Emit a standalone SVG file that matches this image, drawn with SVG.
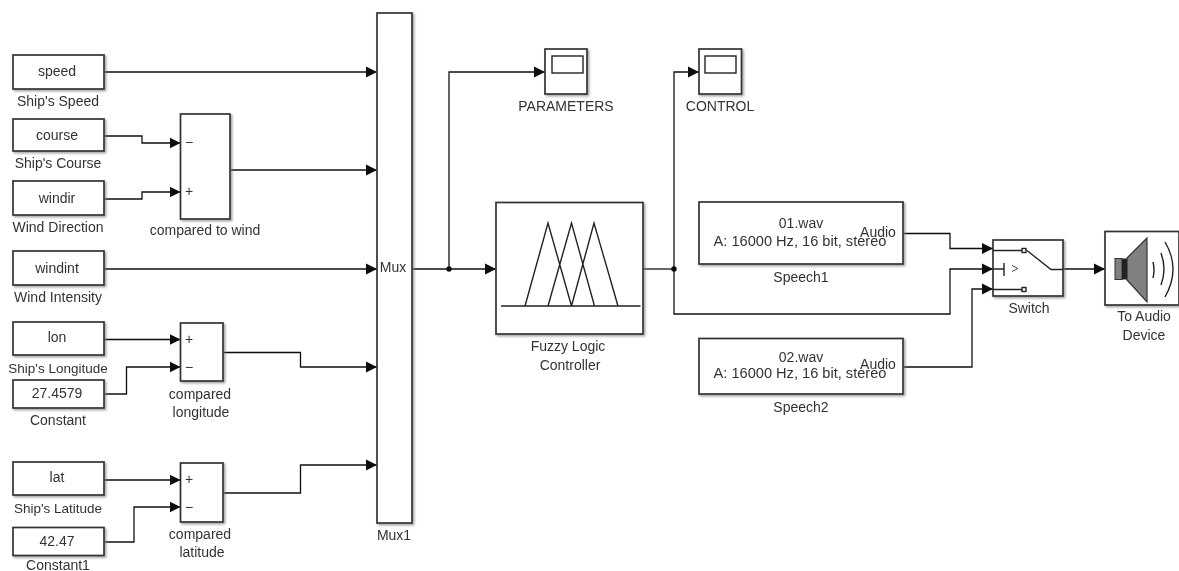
<svg xmlns="http://www.w3.org/2000/svg" width="1179" height="571" viewBox="0 0 1179 571">
<defs>
<marker id="arrow" markerUnits="userSpaceOnUse" markerWidth="12" markerHeight="12" refX="11" refY="6" orient="auto"><path d="M0,0.500 L11,6 L0,11.500 Z" fill="#111"/></marker>
<filter id="soft" x="-10%" y="-10%" width="125%" height="125%"><feDropShadow dx="1.5" dy="1.5" stdDeviation="1.2" flood-color="#777" flood-opacity="0.7"/></filter>
<filter id="blur" filterUnits="userSpaceOnUse" x="0" y="0" width="1179" height="571"><feGaussianBlur stdDeviation="0.35"/></filter>
</defs>
<style>
text{font-family:"Liberation Sans",Arial,sans-serif;font-size:14px;fill:#333;text-anchor:middle}
.w{font-size:14.6px}
.n{font-size:13.5px}
.b{fill:#fff;stroke:#333;stroke-width:1.7;filter:url(#soft)}
.c{fill:none;stroke:#111;stroke-width:1.3}
.a{marker-end:url(#arrow)}
.s{fill:none;stroke:#222;stroke-width:1.4}
</style>
<rect width="1179" height="571" fill="#fff"/>
<g filter="url(#blur)">
<g id="connectors">
<path class="c a" d="M104,72H377"/>
<path class="c a" d="M104,136H142V143H180.500"/>
<path class="c a" d="M104,199H142V192H180.500"/>
<path class="c a" d="M230,170H377"/>
<path class="c a" d="M104,269H377"/>
<path class="c a" d="M104,339.500H180.500"/>
<path class="c a" d="M104,394H126.500V367H180.500"/>
<path class="c a" d="M223,352.500H300.500V367H377"/>
<path class="c a" d="M104,480H180.500"/>
<path class="c a" d="M104,542H134V507H180.500"/>
<path class="c a" d="M223,493H300.500V465H377"/>
<path class="c a" d="M412,269H496"/>
<path class="c a" d="M449,269V72H545"/>
<path class="c" d="M643,269H674"/>
<path class="c a" d="M674,269V72H699"/>
<path class="c a" d="M674,269V314H950V269H993"/>
<path class="c a" d="M903,233.500H950V248.500H993"/>
<path class="c a" d="M903,367H972V289H993"/>
<path class="c a" d="M1063,269H1105"/>
<circle cx="449" cy="269" r="2.700" fill="#111"/>
<circle cx="674" cy="269" r="2.700" fill="#111"/>
</g>
<g id="speed"><rect class="b" x="13" y="55" width="91" height="34"/><text x="57" y="76">speed</text><text x="58" y="106">Ship's Speed</text></g>
<g id="course"><rect class="b" x="13" y="119" width="91" height="32"/><text x="57" y="140">course</text><text x="58" y="168">Ship's Course</text></g>
<g id="windir"><rect class="b" x="13" y="181" width="91" height="34"/><text x="57" y="203">windir</text><text x="58" y="232">Wind Direction</text></g>
<g id="windint"><rect class="b" x="13" y="251" width="91" height="34"/><text x="57" y="273">windint</text><text x="58" y="302">Wind Intensity</text></g>
<g id="lon"><rect class="b" x="13" y="322" width="91" height="33"/><text x="57" y="342">lon</text><text class="n" x="58" y="373">Ship's Longitude</text></g>
<g id="constant"><rect class="b" x="13" y="380" width="91" height="28"/><text x="57" y="398">27.4579</text><text x="58" y="425">Constant</text></g>
<g id="lat"><rect class="b" x="13" y="462" width="91" height="33"/><text x="57" y="482">lat</text><text class="n" x="58" y="513">Ship's Latitude</text></g>
<g id="constant1"><rect class="b" x="13" y="527.500" width="91" height="28"/><text x="57" y="546">42.47</text><text x="58" y="570">Constant1</text></g>
<g id="compared-to-wind"><rect class="b" x="180.500" y="114" width="49.500" height="105"/><text x="189" y="147">−</text><text x="189" y="196">+</text><text x="205" y="235">compared to wind</text></g>
<g id="compared-longitude"><rect class="b" x="180.500" y="323" width="42.500" height="58"/><text x="189" y="344">+</text><text x="189" y="372">−</text><text x="200" y="399">compared</text><text x="201" y="417">longitude</text></g>
<g id="compared-latitude"><rect class="b" x="180.500" y="463" width="42.500" height="59"/><text x="189" y="484">+</text><text x="189" y="512">−</text><text x="200" y="539">compared</text><text x="202" y="557">latitude</text></g>
<g id="mux1"><rect class="b" x="377" y="13" width="35" height="510"/><text x="393" y="272">Mux</text><text x="394" y="540">Mux1</text></g>
<g id="parameters"><rect class="b" x="545" y="49" width="42" height="45"/><rect class="s" x="552" y="56" width="31" height="17"/><text x="566" y="111">PARAMETERS</text></g>
<g id="control"><rect class="b" x="699" y="49" width="42.500" height="45"/><rect class="s" x="705" y="56" width="31" height="17"/><text x="720" y="111">CONTROL</text></g>
<g id="fuzzy"><rect class="b" x="496" y="202.500" width="147" height="131.500"/><path class="s" d="M501,306H640.500M525,306L548,223L571.500,306M548,306L571.500,223L594.500,306M571.500,306L594,223L618,306"/><text x="568" y="351">Fuzzy Logic</text><text x="570" y="370">Controller</text></g>
<g id="speech1"><rect class="b" x="699" y="202" width="204" height="62"/><text x="801" y="228">01.wav</text><text class="w" x="800" y="246">A: 16000 Hz, 16 bit, stereo</text><text x="878" y="237">Audio</text><text x="801" y="282">Speech1</text></g>
<g id="speech2"><rect class="b" x="699" y="338.500" width="204" height="55.500"/><text x="801" y="362">02.wav</text><text class="w" x="800" y="378">A: 16000 Hz, 16 bit, stereo</text><text x="878" y="369">Audio</text><text x="801" y="412">Speech2</text></g>
<g id="switch"><rect class="b" x="993" y="240" width="70" height="56"/><path class="s" d="M993,250.500H1022M993,269H1004M1004,263V276M993,289.500H1022M1027,250.500L1051,269.500H1063"/><rect class="s" x="1022" y="248.500" width="4" height="4"/><rect class="s" x="1022" y="287.500" width="4" height="4"/><path d="M1012,265.500L1018,268.500L1012,271.500" fill="none" stroke="#444"/><text x="1029" y="313">Switch</text></g>
<g id="audio"><rect class="b" x="1105" y="231.500" width="74" height="73.500"/><path d="M1127,258L1147,238V302L1127,280Z" fill="#808080" stroke="#333" stroke-width="1.200"/><rect x="1115" y="258.500" width="7" height="21" fill="#808080" stroke="#333"/><rect x="1122" y="258.500" width="5" height="21" fill="#222"/><path class="s" d="M1153,262Q1155,270 1153,278M1161,253Q1167,269 1161,285M1165,242Q1181,269 1165,297"/><text x="1144" y="321">To Audio</text><text x="1144" y="340">Device</text></g>
</g>
</svg>
